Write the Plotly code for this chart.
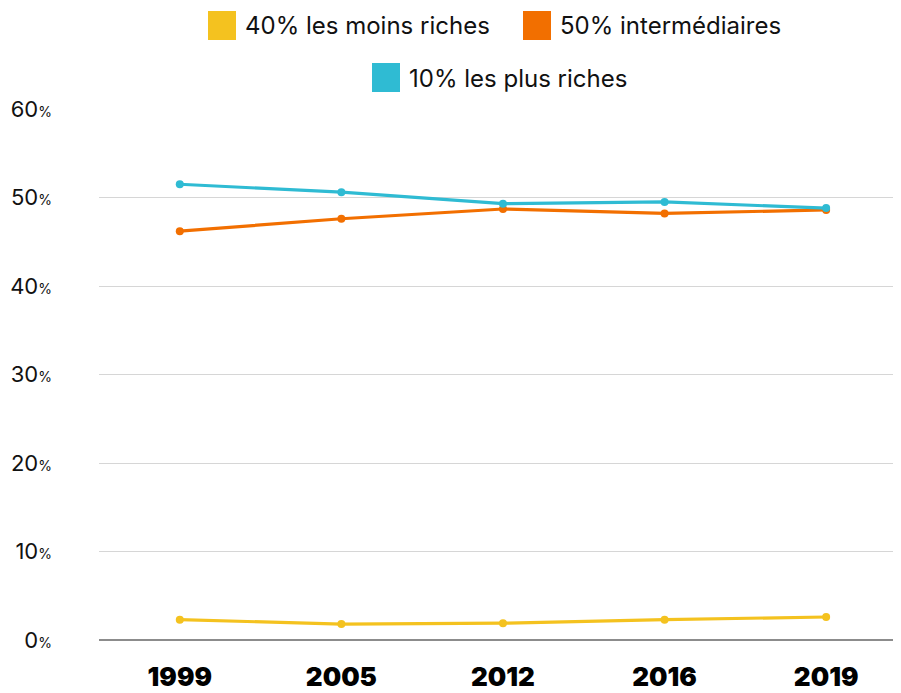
import plotly.graph_objects as go

years = ["1999", "2005", "2012", "2016", "2019"]
bottom40 = [2.3, 1.8, 1.9, 2.3, 2.6]
middle50 = [46.2, 47.6, 48.7, 48.2, 48.6]
top10 = [51.5, 50.6, 49.3, 49.5, 48.8]
series_names = ["40% les moins riches", "50% intermédiaires", "10% les plus riches"]
colors = ["#F4C21F", "#F26F00", "#2FBBD3"]
yticks = [0, 10, 20, 30, 40, 50, 60]

OFF = 8  # page body margin offset
W, H = 901 - OFF, 693 - OFF
L, R, T, B = 99 - OFF, 1, 109 - OFF, 53

fig = go.Figure()
for vals, name, c in zip([bottom40, middle50, top10], series_names, colors):
    fig.add_trace(go.Scatter(x=years, y=vals, name=name, mode="lines+markers",
                             line=dict(color=c, width=3.2),
                             marker=dict(color=c, size=8), showlegend=False))

def px2x(px):
    return (px - OFF - L) / (W - L - R)

def py2y(py):
    return (H - B - (py - OFF)) / (H - T - B)

FONT = "Inter, Poppins, sans-serif"
legend_items = [
    (208, 11, series_names[0], colors[0]),
    (523, 11, series_names[1], colors[1]),
    (372, 63, series_names[2], colors[2]),
]
for x0, y0, name, c in legend_items:
    fig.add_shape(type="rect", xref="paper", yref="paper",
                  x0=px2x(x0), x1=px2x(x0 + 28), y0=py2y(y0), y1=py2y(y0 + 29),
                  fillcolor=c, line=dict(width=0))
    fig.add_annotation(xref="paper", yref="paper", x=px2x(x0 + 35), y=py2y(y0 + 15),
                       text=name, showarrow=False, xanchor="left", yanchor="middle",
                       font=dict(family=FONT, size=24, color="#111"))

fig.update_layout(
    width=W, height=H,
    margin=dict(l=L, r=R, t=T, b=B, autoexpand=False),
    plot_bgcolor="white", paper_bgcolor="white",
    font=dict(family=FONT, color="#111"),
    xaxis=dict(type="category", range=[-0.5, 4.457], showgrid=False,
               showline=False, ticks="", zeroline=False, automargin=False,
               tickfont=dict(family=FONT, size=26, color="#000", weight=900),
               ticklabelstandoff=19),
    yaxis=dict(range=[0, 60], tickvals=yticks, automargin=False,
               ticktext=[f"{v}<span style='font-size:14px'>%</span>" for v in yticks],
               tickfont=dict(family=FONT, size=22, color="#111"),
               showgrid=True, gridcolor="#D6D6D6", gridwidth=1,
               zeroline=True, zerolinecolor="#8C8C8C", zerolinewidth=1.5,
               ticks="", showline=False, ticklabelstandoff=46),
)

fig.write_html("out.html")
